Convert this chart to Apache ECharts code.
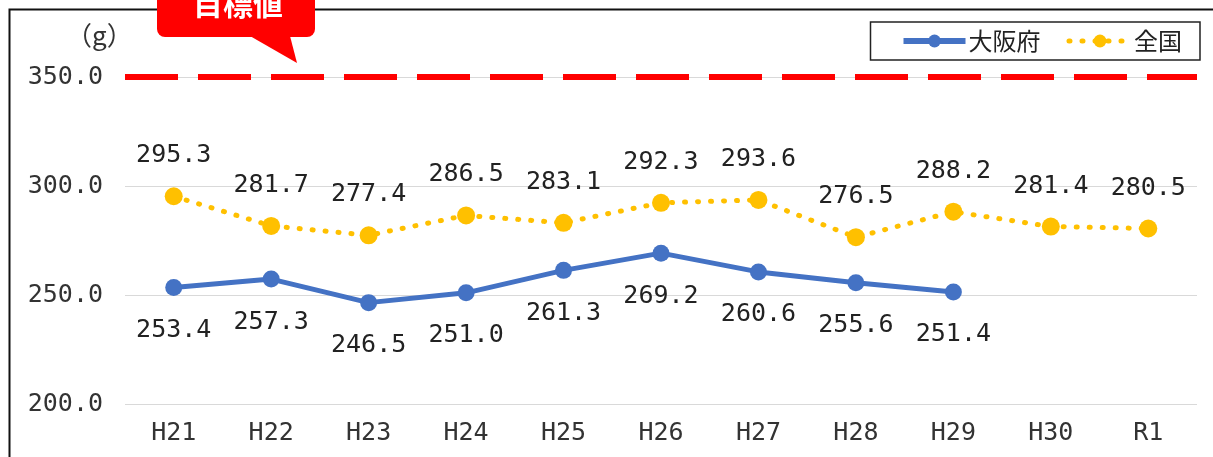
<!DOCTYPE html>
<html><head><meta charset="utf-8">
<script src="https://cdn.jsdelivr.net/npm/echarts@6/dist/echarts.min.js"></script>
<style>html,body{margin:0;padding:0;background:#fff}#c{width:1213px;height:457px}</style>
</head><body><div id="c"></div>
<script>
const categories = ['H21','H22','H23','H24','H25','H26','H27','H28','H29','H30','R1'];
const osaka = [253.4,257.3,246.5,251.0,261.3,269.2,260.6,255.6,251.4,null,null];
const national = [295.3,281.7,277.4,286.5,283.1,292.3,293.6,276.5,288.2,281.4,280.5];
const target = 350;
const yTicks = {min:200, max:350, interval:50};

const NUMFONT = '"DejaVu Sans Mono", monospace';
const CJK = '"Noto Sans CJK JP", sans-serif';
const chart = echarts.init(document.getElementById('c'));
chart.setOption({
  backgroundColor:'#fff',
  animation:false,
  grid:{left:125, right:16, top:77, bottom:53},
  legend:{
    right:13, top:22, itemWidth:62, itemHeight:16, itemGap:26,
    padding:[7,18,7,30], borderColor:'#222', borderWidth:1.5, backgroundColor:'#fff',
    textStyle:{fontFamily:CJK, fontSize:24, color:'#222', padding:[0,0,0,-2]},
    data:[
      {name:'大阪府', lineStyle:{width:6}},
      {name:'全国', lineStyle:{width:5}}
    ]
  },
  xAxis:{
    type:'category', data:categories, boundaryGap:true,
    axisLine:{show:false}, axisTick:{show:false},
    axisLabel:{fontFamily:NUMFONT, fontSize:25, color:'#333', margin:17}
  },
  yAxis:{
    type:'value', min:yTicks.min, max:yTicks.max, interval:yTicks.interval,
    axisLine:{show:false}, axisTick:{show:false},
    splitLine:{lineStyle:{color:'#d9d9d9', width:1.2}},
    axisLabel:{fontFamily:NUMFONT, fontSize:25, color:'#333', margin:22, formatter:v=>v.toFixed(1)}
  },
  series:[
    {
      name:'大阪府', type:'line', data:osaka,
      symbol:'circle', symbolSize:17,
      lineStyle:{color:'#4472C4', width:5},
      itemStyle:{color:'#4472C4'},
      label:{show:true, position:'bottom', distance:22, fontFamily:NUMFONT, fontSize:25, color:'#222', formatter:p=>p.value.toFixed(1)},
      z:3
    },
    {
      name:'全国', type:'line', data:national,
      symbol:'circle', symbolSize:18,
      lineStyle:{color:'#FFC000', width:5, type:[1,12], cap:'round'},
      itemStyle:{color:'#FFC000'},
      label:{show:true, position:'top', distance:19, fontFamily:NUMFONT, fontSize:25, color:'#222', formatter:p=>p.value.toFixed(1)},
      markLine:{
        symbol:'none', silent:true, label:{show:false},
        lineStyle:{color:'#FF0000', width:6, type:[53,20], cap:'butt'},
        data:[{yAxis:target}]
      },
      z:2
    }
  ],
  graphic:[
    {type:'rect', left:7, top:7, shape:{width:1230, height:470}, style:{fill:null, stroke:'#111', lineWidth:2}, z:0, silent:true},
    {type:'group', z:100, children:[
      {type:'polygon', shape:{points:[[250,36],[290,36],[297,63]]}, style:{fill:'#FF0000'}},
      {type:'rect', shape:{x:157, y:-20, width:158, height:57, r:8}, style:{fill:'#FF0000'}},
      {type:'text', style:{x:238, y:4, text:'目標値', fill:'#fff', font:'bold 30px '+CJK, align:'center', verticalAlign:'middle'}}
    ]},
    {type:'text', left:66, top:22, style:{text:'（g）', fill:'#333', font:'26px '+CJK}}
  ]
});
</script></body></html>
